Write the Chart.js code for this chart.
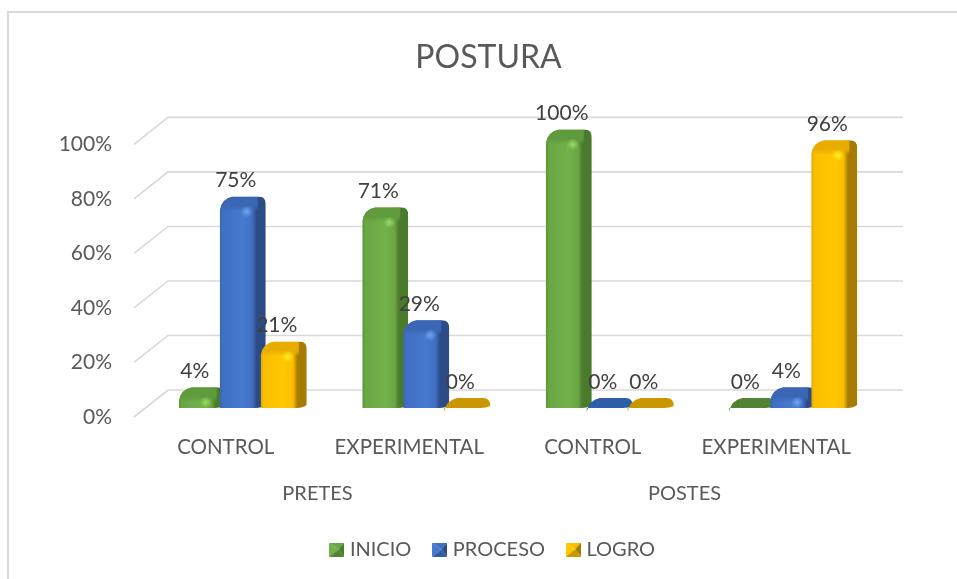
<!DOCTYPE html>
<html>
<head>
<meta charset="utf-8">
<title>POSTURA</title>
<script src="https://cdn.jsdelivr.net/npm/chart.js@4/dist/chart.umd.min.js"></script>
<style>
  html,body{margin:0;padding:0;background:#fff;overflow:hidden}
  canvas{display:block}
</style>
</head>
<body>
<canvas id="postura" width="957" height="579"></canvas>
<script>
const categories = ["CONTROL","EXPERIMENTAL","CONTROL","EXPERIMENTAL"];
const groups = ["PRETES","POSTES"];
const inicio = [4,71,100,0];
const proceso = [75,29,0,4];
const logro = [21,0,0,96];

// colours for the fake 3D bars: left edge, face, shine, side, lid, flat lid, highlight
const palette = [
  {edge:"#5a9437",face:"#6aa644",shine:"#72b24a",side:"#4a7a2c",lid:"#5f9a3c",flat:"#548235",spot:"#96dc64"},
  {edge:"#3a66b0",face:"#4070c4",shine:"#4779cf",side:"#2b4c86",lid:"#3a66b4",flat:"#2f5ea8",spot:"#6fa6f0"},
  {edge:"#e0a800",face:"#fcbe00",shine:"#ffc800",side:"#a67c00",lid:"#e8ad00",flat:"#c99700",spot:"#fff020"}
];

const depthX = 34;
const depthY = 27;
const barShift = 14.5;
const barWidth = 36;
const lidDepth = 10;
const barBaseUp = 9;
const barScale = 0.985;

function swatch(c){
  const cv = document.createElement("canvas");
  cv.width = 15;
  cv.height = 14;
  const g = cv.getContext("2d");
  const tri = (color,pts)=>{
    g.fillStyle = color;
    g.beginPath();
    g.moveTo(pts[0],pts[1]);
    g.lineTo(pts[2],pts[3]);
    g.lineTo(9,7);
    g.closePath();
    g.fill();
  };
  tri(c.face,[0,0,15,0]);
  tri(c.shine,[0,0,0,14]);
  tri(c.side,[15,0,15,14]);
  tri(c.flat,[0,14,15,14]);
  return cv;
}

function drawBar(ctx,x0,base,topF,value,c){
  const x1 = x0 + barWidth;
  const top = topF - lidDepth;
  const xr = x1 + lidDepth;

  ctx.beginPath();
  ctx.moveTo(x0,base);
  ctx.lineTo(x0,topF+4);
  ctx.quadraticCurveTo(x0+2,top+2,x0+lidDepth+3,top);
  ctx.lineTo(xr-7,top);
  ctx.quadraticCurveTo(xr,top,xr,top+8);
  ctx.lineTo(xr,Math.max(base-3,top+8));
  ctx.quadraticCurveTo(xr-4,base,xr-10,base);
  ctx.closePath();

  if(value === 0){
    ctx.fillStyle = c.flat;
    ctx.fill();
    return;
  }
  ctx.clip();

  const grad = ctx.createLinearGradient(x0,0,xr,0);
  grad.addColorStop(0,c.edge);
  grad.addColorStop(0.07,c.face);
  grad.addColorStop(0.5,c.shine);
  grad.addColorStop(0.7,c.face);
  grad.addColorStop(0.8,c.side);
  grad.addColorStop(1,c.side);
  ctx.fillStyle = grad;
  ctx.fillRect(x0,top,xr-x0,base-top);

  // lid shading fades into the front face
  const lid = ctx.createLinearGradient(0,top,0,topF+5);
  lid.addColorStop(0,c.lid);
  lid.addColorStop(0.6,c.lid);
  lid.addColorStop(1,c.lid+"00");
  ctx.fillStyle = lid;
  ctx.fillRect(x0,top,barWidth+2,topF+5-top);

  // highlight at the front corner of the lid
  const sx = x1-9;
  const sy = topF+5;
  const spot = ctx.createRadialGradient(sx,sy,0,sx,sy,6);
  spot.addColorStop(0,c.spot);
  spot.addColorStop(1,c.spot+"00");
  ctx.fillStyle = spot;
  ctx.fillRect(sx-6,sy-6,12,12);
}

const bars3d = {
  id: "bars3d",
  afterLayout(chart){
    // the legend sits a little right of the chart centre
    chart.legend.left += 6;
    chart.legend.right += 6;
  },
  beforeDraw(chart){
    const ctx = chart.ctx;
    ctx.save();
    ctx.fillStyle = "#fff";
    ctx.fillRect(0,0,chart.width,chart.height);
    ctx.strokeStyle = "#d9d9d9";
    ctx.lineWidth = 2;
    ctx.strokeRect(8,12,1200,1200);
    ctx.restore();
  },
  beforeDatasetsDraw(chart){
    // floor and wall gridlines
    const ctx = chart.ctx;
    const area = chart.chartArea;
    const yScale = chart.scales.y;
    ctx.save();
    ctx.strokeStyle = "#d9d9d9";
    ctx.lineWidth = 1.6;
    yScale.ticks.forEach(t=>{
      const y = yScale.getPixelForValue(t.value);
      ctx.beginPath();
      ctx.moveTo(area.left,y);
      ctx.lineTo(area.left+depthX,y-depthY);
      ctx.lineTo(area.right+depthX+1,y-depthY);
      ctx.stroke();
    });
    ctx.restore();
  },
  beforeDatasetDraw(){
    return false;
  },
  afterDatasetsDraw(chart){
    const ctx = chart.ctx;
    const zero = chart.scales.y.getPixelForValue(0);
    const base = zero - barBaseUp;
    const tops = [];
    chart.data.datasets.forEach((ds,i)=>{
      chart.getDatasetMeta(i).data.forEach((el,j)=>{
        const x0 = el.x - el.width/2 + barShift;
        const topF = base - (zero - el.y)*barScale;
        ctx.save();
        drawBar(ctx,x0,base,topF,ds.data[j],palette[i]);
        ctx.restore();
        tops.push({x:x0+barWidth/2-2,y:topF-lidDepth-16,text:`${ds.data[j]}%`});
      });
    });
    ctx.save();
    ctx.fillStyle = "#404040";
    ctx.font = "21px Lato";
    ctx.textAlign = "center";
    ctx.textBaseline = "middle";
    tops.forEach(t=>ctx.fillText(t.text,t.x,t.y));
    ctx.restore();
  }
};

const swatches = palette.map(swatch);

new Chart(document.getElementById("postura"),{
  type: "bar",
  data: {
    labels: categories,
    datasets: [
      {label:"INICIO",data:inicio,backgroundColor:"#70ad47"},
      {label:"PROCESO",data:proceso,backgroundColor:"#4472c4"},
      {label:"LOGRO",data:logro,backgroundColor:"#ffc000"}
    ]
  },
  plugins: [bars3d],
  options: {
    responsive: false,
    animation: false,
    datasets: {
      bar: {
        barPercentage: 1,
        categoryPercentage: 0.67
      }
    },
    layout: {
      padding: {left:0,right:-20,top:0,bottom:9.5}
    },
    plugins: {
      title: {
        display: true,
        text: "POSTURA",
        color: "#595959",
        font: {family:"Lato",size:32,weight:"normal"},
        padding: {top:38,bottom:68}
      },
      legend: {
        position: "bottom",
        labels: {
          color: "#595959",
          font: {family:"Lato",size:20},
          usePointStyle: true,
          boxWidth: 6,
          padding: 25.5,
          generateLabels: (chart)=>chart.data.datasets.map((ds,i)=>({
            text: ds.label,
            datasetIndex: i,
            fontColor: "#595959",
            fillStyle: ds.backgroundColor,
            strokeStyle: ds.backgroundColor,
            lineWidth: 0,
            pointStyle: swatches[i]
          }))
        }
      },
      tooltip: {enabled:false}
    },
    scales: {
      y: {
        min: 0,
        max: 100,
        afterFit: (s)=>{s.width = 134},
        border: {display:false},
        grid: {display:false,drawTicks:false},
        ticks: {
          stepSize: 20,
          padding: 22,
          color: "#595959",
          font: {family:"Lato",size:21},
          callback: (value)=>`${value}%`
        }
      },
      // empty axis, only keeps the plot clear of the right side
      y2: {
        position: "right",
        afterFit: (s)=>{s.width = 109},
        border: {display:false},
        grid: {display:false,drawTicks:false},
        ticks: {display:false}
      },
      x: {
        afterFit: (s)=>{s.height = 49},
        border: {display:false},
        grid: {display:false,drawTicks:false},
        ticks: {
          padding: 18,
          maxRotation: 0,
          color: "#595959",
          font: {family:"Lato",size:20.5}
        }
      },
      x2: {
        type: "category",
        position: "bottom",
        labels: groups,
        afterFit: (s)=>{s.height = 48},
        border: {display:false},
        grid: {display:false,drawTicks:false},
        ticks: {
          padding: 16,
          maxRotation: 0,
          color: "#595959",
          font: {family:"Lato",size:20}
        }
      }
    }
  }
});
</script>
</body>
</html>
